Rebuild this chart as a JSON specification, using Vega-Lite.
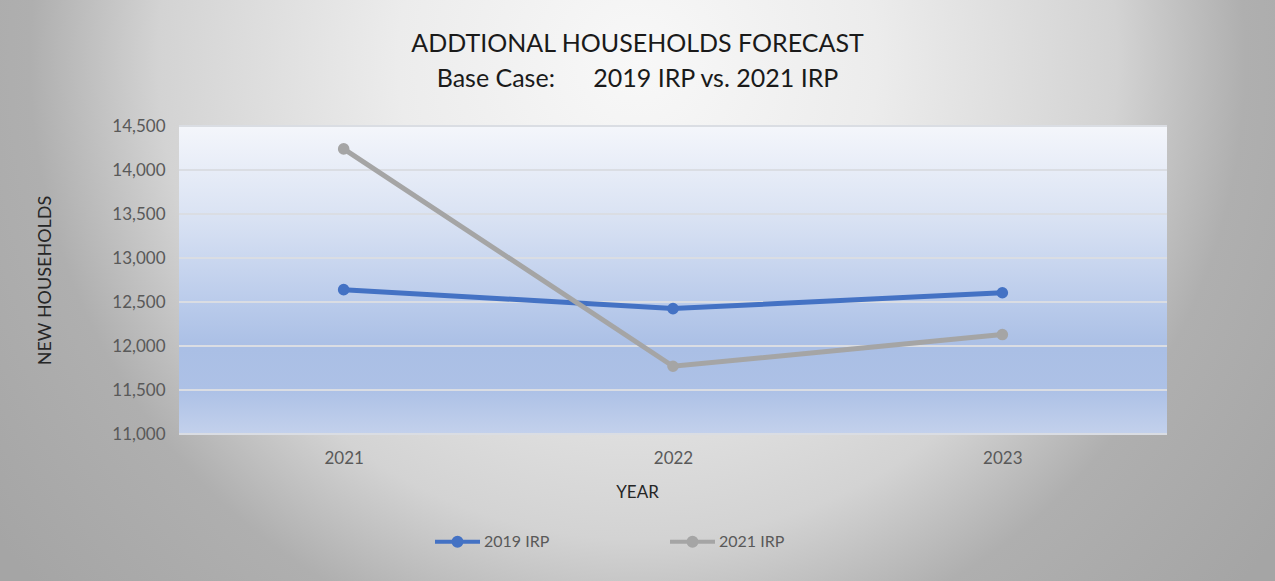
{
  "$schema": "https://vega.github.io/schema/vega-lite/v6.json",
  "width": 1275,
  "height": 581,
  "autosize": {"type": "none"},
  "padding": 0,
  "background": "#ffffff",
  "config": {"font": "Lato", "view": {"stroke": null}},
  "view": {
    "stroke": null,
    "fill": {
      "gradient": "radial",
      "x1": 0.5, "y1": 0.319, "r1": 0,
      "x2": 0.5, "y2": 0.319, "r2": 0.627,
      "stops": [
        {"offset": 0, "color": "#f8f8f8"},
        {"offset": 0.3, "color": "#ececec"},
        {"offset": 0.6, "color": "#d3d3d3"},
        {"offset": 0.76, "color": "#afafaf"},
        {"offset": 1, "color": "#a5a5a5"}
      ]
    }
  },
  "title": {
    "text": ["ADDTIONAL HOUSEHOLDS FORECAST", "Base Case:\u00a0\u00a0\u00a0\u00a0\u00a0 2019 IRP vs. 2021 IRP"],
    "anchor": "middle",
    "frame": "group",
    "orient": "top",
    "offset": -92,
    "fontSize": 25,
    "fontWeight": "normal",
    "color": "#1a1a1a",
    "lineHeight": 35
  },
  "datasets": {
    "households": [
      {"year": 2021, "series": "2019 IRP", "value": 12640},
      {"year": 2022, "series": "2019 IRP", "value": 12425},
      {"year": 2023, "series": "2019 IRP", "value": 12605},
      {"year": 2021, "series": "2021 IRP", "value": 14240},
      {"year": 2022, "series": "2021 IRP", "value": 11770},
      {"year": 2023, "series": "2021 IRP", "value": 12130}
    ],
    "gridlines": [
      {"tick": 11000}, {"tick": 11500}, {"tick": 12000}, {"tick": 12500},
      {"tick": 13000}, {"tick": 13500}, {"tick": 14000}, {"tick": 14500}
    ],
    "plotArea": [{"area": "plot"}]
  },
  "layer": [
    {
      "data": {"name": "plotArea"},
      "mark": {
        "type": "rect",
        "fill": {
          "gradient": "linear",
          "x1": 0, "y1": 0, "x2": 0, "y2": 1,
          "stops": [
            {"offset": 0, "color": "#f4f6fb"},
            {"offset": 0.3, "color": "#d9e2f3"},
            {"offset": 0.6, "color": "#b7c9ea"},
            {"offset": 0.72, "color": "#aabfe5"},
            {"offset": 0.86, "color": "#adc1e6"},
            {"offset": 1, "color": "#c3d1ec"}
          ]
        }
      },
      "encoding": {
        "x": {"datum": 2020.5, "type": "quantitative", "scale": {"domain": [2020.5, 2023.5], "range": [179, 1167], "nice": false, "zero": false}},
        "x2": {"datum": 2023.5},
        "y": {"datum": 11000, "type": "quantitative", "scale": {"domain": [11000, 14500], "range": [434, 126], "nice": false, "zero": false}},
        "y2": {"datum": 14500}
      }
    },
    {
      "data": {"name": "gridlines"},
      "mark": {"type": "rule", "color": "#dadde3", "strokeWidth": 2},
      "encoding": {
        "y": {"field": "tick", "type": "quantitative"},
        "x": {"datum": 2020.5, "type": "quantitative"},
        "x2": {"datum": 2023.5}
      }
    },
    {
      "data": {"name": "households"},
      "mark": {"type": "line", "strokeWidth": 5},
      "encoding": {
        "x": {
          "field": "year", "type": "quantitative",
          "axis": {
            "values": [2021, 2022, 2023], "format": "d", "offset": -147,
            "domain": false, "ticks": false, "tickSize": 0, "grid": false,
            "labelPadding": 16, "labelFontSize": 17, "labelColor": "#595959",
            "title": "YEAR", "titleX": 637, "titleY": 58, "titleBaseline": "middle",
            "titleFontSize": 17, "titleFontWeight": "normal", "titleColor": "#262626"
          }
        },
        "y": {
          "field": "value", "type": "quantitative",
          "axis": {
            "values": [11000, 11500, 12000, 12500, 13000, 13500, 14000, 14500],
            "format": ",d", "offset": -179,
            "domain": false, "ticks": false, "tickSize": 0, "grid": false,
            "labelPadding": 14, "labelFontSize": 17, "labelColor": "#595959",
            "title": "NEW HOUSEHOLDS", "titleX": -134, "titleY": 280,
            "titleAlign": "center", "titleBaseline": "middle",
            "titleFontSize": 18, "titleFontWeight": "normal", "titleColor": "#262626"
          }
        },
        "color": {
          "field": "series", "type": "nominal",
          "scale": {"domain": ["2019 IRP", "2021 IRP"], "range": ["#4472C4", "#A5A5A5"]},
          "legend": {
            "orient": "none", "legendX": 433, "legendY": 517,
            "direction": "horizontal", "title": null, "padding": 0,
            "symbolType": "M-1,0L1,0M-0.178,0A0.178,0.178,0,1,1,0.178,0A0.178,0.178,0,1,1,-0.178,0Z",
            "symbolSize": 2025, "symbolStrokeWidth": 4, "symbolOpacity": 1,
            "labelFontSize": 16, "labelColor": "#595959", "labelOffset": 2,
            "columnPadding": 112,
            "encode": {"symbols": {"update": {"fill": {"field": "value", "scale": "color"}, "stroke": {"field": "value", "scale": "color"}}}}
          }
        }
      }
    },
    {
      "data": {"name": "households"},
      "mark": {"type": "point", "filled": true, "size": 135, "opacity": 1},
      "encoding": {
        "x": {"field": "year", "type": "quantitative"},
        "y": {"field": "value", "type": "quantitative"},
        "color": {"field": "series", "type": "nominal"}
      }
    }
  ]
}
